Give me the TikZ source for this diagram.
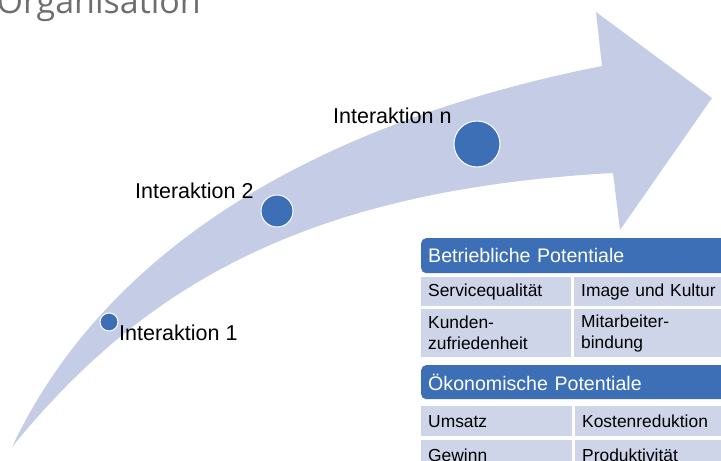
\documentclass[tikz,border=0pt]{standalone}
\usepackage{fontspec}
\setmainfont{Liberation Sans}
\newfontfamily\titlefont{Open Sans}
\definecolor{band}{HTML}{C4CDE5}
\definecolor{accent}{HTML}{3D6FB6}
\definecolor{cellfill}{HTML}{CED5E9}
\definecolor{titlegray}{HTML}{6E6E6E}
\begin{document}
\begin{tikzpicture}[x=1pt,y=-1pt,
  dot/.style={circle,fill=accent,draw=white,line width=1pt,inner sep=0pt},
  lbl/.style={inner sep=0pt,font=\fontsize{21.5}{24}\selectfont},
  head/.style={fill=accent,rounded corners=5pt,text=white,anchor=north west,
    inner xsep=7pt,inner ysep=0pt,align=left,font=\fontsize{19.6}{22}\selectfont},
  cell/.style={fill=cellfill,anchor=north west,inner xsep=7pt,inner ysep=0pt,
    align=left,font=\fontsize{17.4}{21}\selectfont}]
\useasboundingbox (0,0) rectangle (721,461);
\clip (0,0) rectangle (721,461);

% page title, cut off at the top edge
\node[anchor=base east,inner sep=0pt,text=titlegray,
  font=\titlefont\fontsize{34}{40}\selectfont] (title) at (201,13) {Organisation};

% curved arrow
\fill[band] (12,447) .. controls (110,240) and (330,120) .. (602,66)
  -- (596,12) -- (712,98) -- (620,230) -- (613,173)
  .. controls (300,190) and (140,290) .. (12,447) -- cycle;

% interaction points
\node[dot,minimum size=18pt] (i1) at (109,322) {};
\node[dot,minimum size=32pt] (i2) at (277,211) {};
\node[dot,minimum size=46pt] (in) at (477,144) {};
\node[lbl,anchor=base west] (l1) at (119,340) {Interaktion 1};
\node[lbl,anchor=base west] (l2) at (135,198) {Interaktion 2};
\node[lbl,anchor=base west] (ln) at (333,123) {Interaktion n};

% operational potentials
\node[head,minimum height=35pt,text width=306pt] (h1) at (421,238) {Betriebliche Potentiale};
\node[cell,minimum height=29pt,text width=136pt] (a11) at (421,277) {Servicequalität};
\node[cell,minimum height=29pt,text width=136pt] (a12) at (574,277) {Image und Kultur};
\node[cell,minimum height=48pt,text width=136pt] (a21) at (421,309) {Kunden-\\zufriedenheit};
\node[cell,minimum height=48pt,text width=136pt] (a22) at (574,309) {Mitarbeiter-\\bindung};

% economic potentials
\node[head,minimum height=34pt,text width=306pt] (h2) at (421,365) {Ökonomische Potentiale};
\node[cell,minimum height=30pt,text width=137pt] (b11) at (421,406) {Umsatz};
\node[cell,minimum height=30pt,text width=136pt] (b12) at (575,406) {Kostenreduktion};
\node[cell,minimum height=30pt,text width=137pt] (b21) at (421,440) {Gewinn};
\node[cell,minimum height=30pt,text width=136pt] (b22) at (575,440) {Produktivität};
\end{tikzpicture}
\end{document}
